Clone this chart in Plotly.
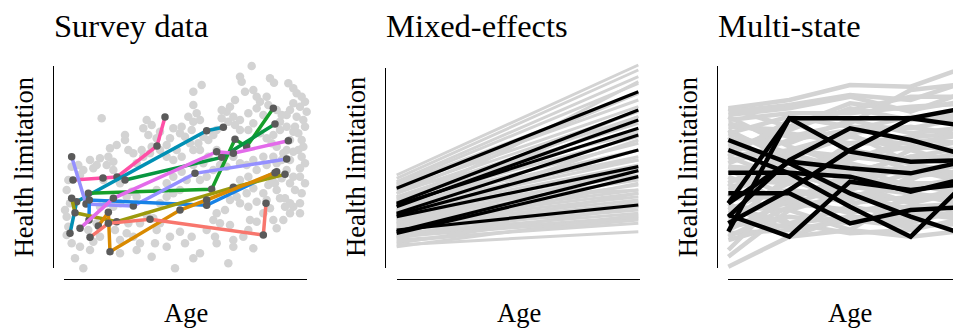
import plotly.graph_objects as go

# ---------------- data (arbitrary age / health units) ----------------
# Panel 1: survey cloud
survey_age = [755,720,725,810,822,865,880,890,905,915,920,900,880,870,860,890,910,915,895,905,
              910,895,880,905,915,900,880,870,885,905,915,900,880,870,900,855,840,830,825,845,
              860,870,850,830,815,800,780,820,840,840,845,830,805,780,770,800,760,735,705,690,
              680,665,700,720,745,770,790,760,745,720,705,685,665,650,640,625,610,595,580,600,
              570,555,540,575,580,600,590,580,580,605,565,545,520,510,500,530,545,520,500,480,
              455,470,445,430,455,440,480,450,430,410,425,400,385,375,375,350,330,325,340,320,
              300,305,270,280,290,250,235,240,215,205,200,210,195,200,205,200,215,225,240,250,
              270,280,300,290,265,300,320,340,360,380,395,410,360,340,310,345,360,380,400,420,
              410,360,385,420,440,460,470,480,465,455,500,525,510,540,555,575,580,600,620,640,
              650,660,645,650,690,700,700,685,730,745,760,750,770,790,770,745,720,740,760,710,
              690,675,720,745,770,800,790,760,740,720,700,680,660,640,620,600,560,540,520,500,
              480,470,500,520,545,580,610,625,650,830,820,850,810,800,790,805,815,855,870,900,
              830,820,845,860,870,880,860,885]
survey_health = [652,620,605,615,602,600,585,570,560,545,515,530,540,520,505,500,490,470,450,430,
                 410,400,395,380,360,345,320,300,280,270,300,240,230,210,210,230,255,280,300,315,
                 340,370,390,410,420,435,450,445,460,485,505,520,535,545,560,560,580,575,550,530,
                 515,520,500,490,510,525,505,480,460,460,475,485,495,460,445,430,440,420,400,400,
                 420,440,450,460,485,490,510,535,575,595,500,470,465,435,415,400,380,370,380,400,
                 410,435,445,465,475,490,455,390,380,360,400,390,400,445,430,415,405,380,365,355,
                 375,495,370,345,355,340,355,325,350,310,280,240,220,200,170,145,120,75,110,45,
                 100,125,140,180,160,230,240,230,240,260,275,260,300,340,310,160,130,150,140,120,
                 100,90,180,180,205,195,160,180,120,80,110,45,140,155,120,140,75,90,160,190,
                 210,180,140,120,175,130,110,60,140,160,105,190,185,210,245,230,240,270,285,260,
                 250,220,310,320,340,355,380,370,355,360,380,350,355,340,320,310,310,280,270,260,
                 240,280,300,320,335,355,360,380,400,165,190,190,225,250,270,295,315,255,240,320,
                 360,380,370,400,430,455,470,470]

# Panel 1: followed respondents (age / health at each interview)
person_names = ["pink", "teal", "green_a", "green_b", "lavender", "blue", "olive", "orange", "salmon", "magenta"]
person_age = [
    [219, 309, 351, 471, 495],
    [210, 230, 620, 670],
    [265, 635, 705, 740, 820],
    [375, 665, 825],
    [215, 258, 400, 585, 860],
    [267, 268, 620, 830],
    [215, 225, 350, 700, 855],
    [295, 325, 330, 540, 620, 825],
    [270, 325, 450, 790, 798],
    [240, 340, 650, 700, 865],
]
person_health = [
    [310, 316, 319, 412, 499],
    [150, 245, 458, 468],
    [270, 282, 432, 410, 525],
    [310, 378, 478],
    [380, 238, 232, 330, 373],
    [190, 250, 234, 335],
    [255, 212, 185, 288, 327],
    [172, 213, 95, 220, 250, 332],
    [138, 180, 192, 145, 240],
    [165, 255, 395, 390, 428],
]
person_colors = ["#FF4FA6", "#0090B4", "#17A02A", "#079640", "#9590FF",
                 "#1782E6", "#9C9A0C", "#D98A00", "#F8766D", "#E36BEA"]

# Panel 2: mixed-effects fitted lines (start / end)
me_age = [200, 925]
me_grey_start = [325,315,305,300,295,290,280,270,260,255,250,245,240,235,230,220,215,210,205,200,
                 195,190,185,180,175,170,165,160,150,145,140,130,115,110,230,280,260,240,200,180,
                 155,140,120,220,270,135,125,190,210]
me_grey_end = [655,640,620,600,570,550,530,515,500,480,460,440,420,400,380,370,355,340,325,310,
               295,280,270,260,250,240,230,220,210,200,195,180,155,205,605,450,370,280,400,340,
               300,270,230,520,570,245,190,430,500]
me_black_start = [285, 240, 230, 235, 210, 205, 200, 155, 150, 160]
me_black_end = [575, 520, 490, 465, 445, 400, 350, 338, 320, 235]

# Panel 3: multi-state trajectories
ms_age = [205, 388, 570, 752, 934]
ms_grey = [
    [525, 550, 595, 590, 655], [515, 535, 565, 550, 610], [505, 525, 560, 515, 580],
    [525, 470, 520, 560, 560], [490, 510, 510, 530, 540], [470, 460, 525, 490, 510],
    [450, 500, 470, 465, 500], [430, 420, 490, 450, 470], [410, 450, 420, 440, 450],
    [390, 380, 440, 400, 430], [370, 400, 380, 410, 400], [350, 340, 400, 370, 390],
    [330, 370, 350, 340, 360], [310, 300, 360, 320, 340], [290, 320, 300, 350, 310],
    [270, 250, 320, 290, 280], [250, 280, 260, 300, 260], [230, 220, 270, 250, 270],
    [210, 240, 220, 230, 240], [190, 170, 230, 200, 210], [170, 200, 180, 210, 190],
    [150, 160, 190, 170, 180], [130, 180, 150, 160, 200], [80, 220, 160, 140, 160],
    [50, 140, 200, 180, 230], [100, 280, 240, 260, 250], [460, 370, 310, 400, 350],
    [500, 410, 350, 290, 320], [380, 490, 400, 340, 300], [260, 400, 450, 470, 440],
    [180, 320, 370, 430, 420], [340, 260, 210, 250, 290], [440, 340, 270, 220, 200],
    [220, 300, 380, 360, 400], [300, 180, 230, 320, 370], [400, 470, 540, 520, 550],
    [480, 440, 480, 580, 600], [160, 250, 330, 380, 350], [240, 140, 160, 270, 330],
    [360, 430, 460, 500, 490], [420, 360, 330, 380, 410], [320, 240, 290, 270, 250],
    [280, 330, 280, 330, 360], [200, 260, 300, 240, 280], [350, 300, 420, 420, 450],
    [450, 390, 450, 360, 320], [140, 230, 260, 300, 300], [230, 180, 200, 190, 220],
    [380, 310, 250, 310, 390], [300, 390, 340, 270, 230],
]
ms_black = [
    [155, 495, 495, 495, 530], [430, 360, 270, 200, 140], [400, 330, 230, 140, 320],
    [332, 332, 320, 275, 320], [270, 270, 180, 220, 230], [205, 140, 305, 280, 300],
    [240, 365, 345, 330, 370], [240, 495, 395, 365, 370], [200, 370, 465, 430, 380],
    [180, 280, 400, 495, 470],
]

# ---------------- layout helpers ----------------
# the page body has an 8px margin; the figure is sized to fill the rest of the window
OFF = 8
W, H = 953, 325
GREY = "#D3D3D3"
SERIF = "Liberation Serif, Times New Roman, serif"


def fx(p):
    return (p - OFF) / W


def fy(p):
    return 1 - (p - OFF) / H


# panel geometry (window pixels): zoom origin x, y-axis line x, x-axis start/end, y-axis top
panels = [
    dict(ox=0, yline=53.3, xa=64, xb=307, ytop=66),
    dict(ox=330, yline=385, xa=397, xb=640, ytop=68),
    dict(ox=660, yline=717.3, xa=728, xb=961, ytop=66),
]
Y_BOT = 268
X_LINE = 278.5
DATA_TOP, DATA_BOT = 40, 290

fig = go.Figure()

# Panel 1
fig.add_trace(go.Scatter(x=survey_age, y=survey_health, mode="markers",
                         marker=dict(color=GREY, size=8.5, line=dict(width=0)),
                         cliponaxis=False, hoverinfo="skip", xaxis="x", yaxis="y"))
for a, h, c in zip(person_age, person_health, person_colors):
    fig.add_trace(go.Scatter(x=a, y=h, mode="lines+markers",
                             line=dict(color=c, width=3.5),
                             marker=dict(color="#5A5A5A", size=7.5),
                             cliponaxis=False, xaxis="x", yaxis="y"))

# Panel 2
for s, e in zip(me_grey_start, me_grey_end):
    fig.add_trace(go.Scatter(x=me_age, y=[s, e], mode="lines",
                             line=dict(color=GREY, width=3), xaxis="x2", yaxis="y2"))
for s, e in zip(me_black_start, me_black_end):
    fig.add_trace(go.Scatter(x=me_age, y=[s, e], mode="lines",
                             line=dict(color="black", width=3.2), xaxis="x2", yaxis="y2"))

# Panel 3
for g in ms_grey:
    fig.add_trace(go.Scatter(x=ms_age, y=g, mode="lines",
                             line=dict(color=GREY, width=4.5), xaxis="x3", yaxis="y3"))
for b in ms_black:
    fig.add_trace(go.Scatter(x=ms_age, y=b, mode="lines",
                             line=dict(color="black", width=4.5), xaxis="x3", yaxis="y3"))

layout = dict(width=W, height=H, margin=dict(l=0, r=0, t=0, b=0),
              paper_bgcolor="white", plot_bgcolor="rgba(0,0,0,0)", showlegend=False)

hidden = dict(visible=False, showgrid=False, zeroline=False)
for i, p in enumerate(panels, start=1):
    ox = p["ox"]
    dxa, dxb = p["xa"] - 6, min(p["xb"] + 6, W + OFF)
    xk = f"xaxis{i}" if i > 1 else "xaxis"
    yk = f"yaxis{i}" if i > 1 else "yaxis"
    layout[xk] = dict(hidden, domain=[fx(dxa), fx(dxb)],
                      range=[(dxa - ox) * 3, (dxb - ox) * 3], anchor=f"y{i}" if i > 1 else "y")
    layout[yk] = dict(hidden, domain=[fy(DATA_BOT), fy(DATA_TOP)],
                      range=[700 - (DATA_BOT - 50) * 3, 700 - (DATA_TOP - 50) * 3],
                      anchor=f"x{i}" if i > 1 else "x")
    # frame axes (visible axis lines)
    j = i + 3
    fig.add_trace(go.Scatter(x=[], y=[], xaxis=f"x{j}", yaxis=f"y{j}", hoverinfo="skip"))
    frame = dict(showline=True, linecolor="black", linewidth=1.2, showticklabels=False,
                 ticks="", showgrid=False, zeroline=False, range=[0, 1], fixedrange=True)
    layout[f"xaxis{j}"] = dict(frame, domain=[fx(p["xa"]), fx(min(p["xb"], W + OFF))],
                               anchor="free", position=fy(X_LINE))
    layout[f"yaxis{j}"] = dict(frame, domain=[fy(Y_BOT), fy(p["ytop"])],
                               anchor="free", position=fx(p["yline"]))

titles = ["Survey data", "Mixed-effects", "Multi-state"]
ann = []
for p, t in zip(panels, titles):
    ann.append(dict(text=t, xref="paper", yref="paper", x=fx(p["yline"] - 1), y=fy(25.5),
                    xanchor="left", yanchor="middle", showarrow=False,
                    font=dict(family=SERIF, size=32.5, color="black")))
    ann.append(dict(text="Age", xref="paper", yref="paper", x=fx(p["xa"] + 121.5), y=fy(313),
                    xanchor="center", yanchor="middle", showarrow=False,
                    font=dict(family=SERIF, size=26.5, color="black")))
    ann.append(dict(text="Health limitation", xref="paper", yref="paper", x=fx(p["yline"] - 29), y=fy(167),
                    xanchor="center", yanchor="middle", textangle=-90, showarrow=False,
                    font=dict(family=SERIF, size=26.5, color="black")))
layout["annotations"] = ann

fig.update_layout(**layout)
fig.write_html("out.html")
